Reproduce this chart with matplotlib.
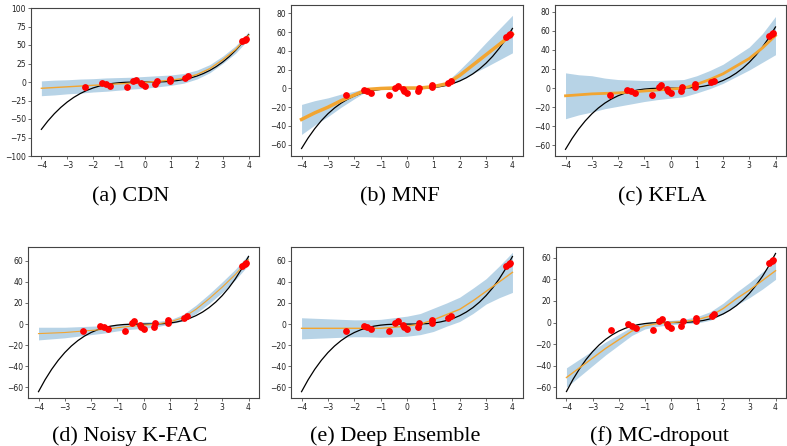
import numpy as np
import matplotlib
matplotlib.use("Agg")
import matplotlib.pyplot as plt

# training points (shared by every panel)
pts_x = [-2.3, -1.65, -1.5, -1.35, -0.7, -0.45, -0.35, -0.15, -0.1, 0.0,
         0.4, 0.45, 0.95, 0.95, 1.55, 1.65, 3.75, 3.85, 3.9]
pts_y = [-7, -1.5, -3, -5, -7, 1, 3, -1, -3, -5,
         -3, 1, 4, 1.5, 6, 8, 55, 57, 58]

# ground truth y = x^3, tabulated
true_x = [-4.0, -3.75, -3.5, -3.25, -3.0, -2.75, -2.5, -2.25, -2.0, -1.75, -1.5,
          -1.25, -1.0, -0.75, -0.5, -0.25, 0.0, 0.25, 0.5, 0.75, 1.0, 1.25, 1.5,
          1.75, 2.0, 2.25, 2.5, 2.75, 3.0, 3.25, 3.5, 3.75, 4.0]
true_y = [-64.0, -52.73, -42.88, -34.33, -27.0, -20.8, -15.63, -11.39, -8.0,
          -5.36, -3.38, -1.95, -1.0, -0.42, -0.13, -0.02, 0.0, 0.02, 0.13, 0.42,
          1.0, 1.95, 3.38, 5.36, 8.0, 11.39, 15.63, 20.8, 27.0, 34.33, 42.88,
          52.73, 64.0]

# predictive mean / half-width of the band at these inputs
grid_x = [-4.0, -3.5, -3.0, -2.5, -2.0, -1.5, -1.0, -0.5, 0.0,
          0.5, 1.0, 1.5, 2.0, 2.5, 3.0, 3.5, 4.0]

cdn_mean = [-8.5, -7.5, -6.5, -5.5, -4.5, -3.5, -2.5, -1.5, -0.5,
            1, 2.5, 5, 10, 18, 30, 44, 63]
cdn_std = [10, 10, 9.5, 9.5, 9, 9, 8.5, 8, 8, 7.5, 7, 6.5, 6, 5.5, 5, 5, 5]

mnf_mean = [-33, -26, -20, -13, -7, -1, 0, 0.5, 0.5,
            0.5, 2, 5, 14, 25, 36, 47, 58]
mnf_std = [16, 13, 10, 7, 4, 1.5, 1, 1, 1, 1, 1, 2, 6, 9, 13, 16.5, 20]

kfla_mean = [-8, -7, -6, -5.5, -5, -4, -3, -2, -1,
             0, 4, 9, 15, 23, 31, 42, 55]
kfla_std = [24, 21, 19, 16, 14, 12.5, 11, 10, 9.5, 9, 9, 9.5, 10, 11, 12, 15, 20]

kfac_mean = [-9, -8.5, -8, -7, -6, -5, -3.5, -2, -1,
             0, 2, 6, 14, 24, 35, 47, 61]
kfac_std = [6, 5.5, 5, 4.5, 4, 3.5, 3, 3, 3, 2.5, 2, 3, 4, 4.5, 5, 5, 5]

ens_mean = [-4, -4, -4, -4, -4, -4, -4, -3, -2,
            0, 4, 9, 14, 22, 31, 40, 49]
ens_std = [10, 9.5, 9, 8.5, 8, 8, 8.5, 9, 9.5, 10, 11, 11, 11.5, 12, 12, 15, 19]

mcd_mean = [-51, -42, -33, -24, -16, -8, -3, -1, 0,
            1, 2.5, 6, 13, 22, 30, 39, 48]
mcd_std = [9, 8, 7, 6, 5, 4, 3, 2.5, 2, 2, 3, 4, 5, 6, 7, 8, 8]

captions = ["(a) CDN", "(b) MNF", "(c) KFLA",
            "(d) Noisy K-FAC", "(e) Deep Ensemble", "(f) MC-dropout"]
means = [cdn_mean, mnf_mean, kfla_mean, kfac_mean, ens_mean, mcd_mean]
stds = [cdn_std, mnf_std, kfla_std, kfac_std, ens_std, mcd_std]

# axes boxes in pixels: left, right, top, bottom
W, H = 787, 446
boxes = [(31, 259, 8, 156), (291, 523, 5, 156), (555, 786, 5, 156),
         (28, 259, 247, 398), (291, 523, 247, 398), (556, 786, 247, 398)]
ylims = [(-100, 100), (-72, 89), (-71, 87), (-70, 73), (-70, 73), (-70, 70)]
yticks = [np.arange(-100, 101, 25), np.arange(-60, 81, 20), np.arange(-60, 81, 20),
          np.arange(-60, 61, 20), np.arange(-60, 61, 20), np.arange(-60, 61, 20)]
mean_lw = [1.0, 2.5, 2.0, 0.8, 1.0, 1.0]
cap_x = [131, 400, 662, 130, 395, 660]
cap_y = [197, 197, 197, 436, 436, 436]

fig = plt.figure(figsize=(W / 100, H / 100), dpi=100)

for i in range(6):
    l, r, t, b = boxes[i]
    ax = fig.add_axes([l / W, (H - b) / H, (r - l) / W, (b - t) / H])
    m = np.array(means[i], dtype=float)
    s = np.array(stds[i], dtype=float)
    ax.fill_between(grid_x, m - s, m + s, color="#1f77b4", alpha=0.32, lw=0)
    ax.plot(true_x, true_y, color="black", lw=0.9)
    ax.plot(grid_x, m, color="#f2a531", lw=mean_lw[i])
    ax.scatter(pts_x, pts_y, color="red", s=15, zorder=3)
    ax.set_xlim(-4.4, 4.4)
    ax.set_ylim(*ylims[i])
    ax.set_xticks(range(-4, 5))
    ax.set_yticks(yticks[i])
    ax.tick_params(labelsize=5.5, length=2, width=0.5, pad=1.5,
                   colors="#333333", labelcolor="#222222")
    for sp in ax.spines.values():
        sp.set_linewidth(0.8)
        sp.set_color("#444444")
    fig.text(cap_x[i] / W, 1 - cap_y[i] / H, captions[i], family="Liberation Serif",
             fontsize=16, ha="center", va="center")

fig.savefig("out.png", dpi=100)
